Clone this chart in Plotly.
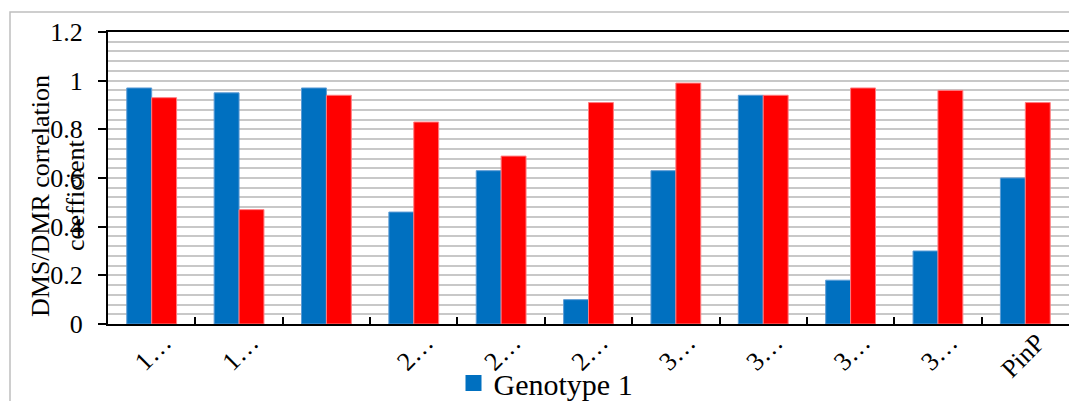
import plotly.graph_objects as go

categories = ["1…", "1…", "", "2…", "2…", "2…", "3…", "3…", "3…", "3…", "PinP"]
genotype1 = [0.97, 0.95, 0.97, 0.46, 0.63, 0.10, 0.63, 0.94, 0.18, 0.30, 0.60]
genotype2 = [0.93, 0.47, 0.94, 0.83, 0.69, 0.91, 0.99, 0.94, 0.97, 0.96, 0.91]
y_ticks = [0, 0.2, 0.4, 0.6, 0.8, 1.0, 1.2]
y_tick_labels = ["0", "0.2", "0.4", "0.6", "0.8", "1", "1.2"]
y_title_lines = ["DMS/DMR correlation", "coefficient"]

xpos = list(range(len(categories)))
W, H = 1069, 401
L, R, T, B = 108, 0, 32, 77
pw, ph = W - L - R, H - T - B

BLUE, RED = "#0070C0", "#FF0000"
font_family = "Liberation Serif"

fig = go.Figure()
fig.add_trace(go.Bar(x=xpos, y=genotype1, name="Genotype 1", showlegend=False,
                     marker=dict(color=BLUE, line=dict(color="#5B9BD5", width=1))))
fig.add_trace(go.Bar(x=xpos, y=genotype2, name="Genotype 2", showlegend=False,
                     marker=dict(color=RED, line=dict(color="#FF7C80", width=1))))
# legend entry (larger square swatch)
fig.add_trace(go.Scatter(x=[None], y=[None], mode="markers", name="Genotype 1",
                         marker=dict(symbol="square", size=16, color=BLUE)))

fig.update_layout(
    width=W, height=H,
    margin=dict(l=L, r=R, t=T, b=B, autoexpand=False),
    paper_bgcolor="white", plot_bgcolor="white",
    barmode="group", bargap=0.43, bargroupgap=0,
    font=dict(family=font_family, color="black", size=25),
    showlegend=True,
    legend=dict(orientation="h", x=(546 - L) / pw, xanchor="center",
                y=(324 - 383) / ph, yanchor="middle", itemwidth=30,
                font=dict(size=30, family=font_family), bgcolor="rgba(0,0,0,0)"),
    xaxis=dict(
        range=[-0.5, len(categories) - 0.5],
        tickmode="array", tickvals=xpos, ticktext=categories,
        tickangle=-45, ticks="", showgrid=False, zeroline=False,
        showline=True, linecolor="black", linewidth=2, mirror=True,
        tickfont=dict(size=26, family=font_family),
        ticklabelshift=12, ticklabelstandoff=-9,
        minor=dict(tickmode="array",
                   tickvals=[i + 0.5 for i in xpos[:-1]],
                   ticks="inside", ticklen=7, tickwidth=1.5, tickcolor="black",
                   showgrid=False),
    ),
    yaxis=dict(
        range=[0, 1.2], tickmode="array", tickvals=y_ticks, ticktext=y_tick_labels,
        ticks="outside", ticklen=8, tickwidth=1.5, tickcolor="black",
        showline=True, linecolor="black", linewidth=2,
        showgrid=True, gridcolor="#C8C8C8", gridwidth=1.5, zeroline=False,
        tickfont=dict(size=26, family=font_family), ticklabelstandoff=10,
        minor=dict(dtick=0.04, showgrid=True, gridcolor="#C8C8C8", gridwidth=1.5),
    ),
)

# outer chart border
fig.add_shape(type="rect", xref="paper", yref="paper",
              x0=(10 - L) / pw, x1=1.1, y0=-(B + 20) / ph, y1=1 + (T - 12) / ph,
              line=dict(color="#BFBFBF", width=1.5), fillcolor="rgba(0,0,0,0)", layer="below")

# y-axis title (two lines, each centred on the same vertical position)
for line_text, px in zip(y_title_lines, [40, 75]):
    fig.add_annotation(text=line_text, xref="paper", yref="paper",
                       x=(px - L) / pw, y=(324 - 196) / ph, xanchor="center", yanchor="middle",
                       textangle=-90, showarrow=False,
                       font=dict(size=26, family=font_family, color="black"))

fig.write_html("out.html")
